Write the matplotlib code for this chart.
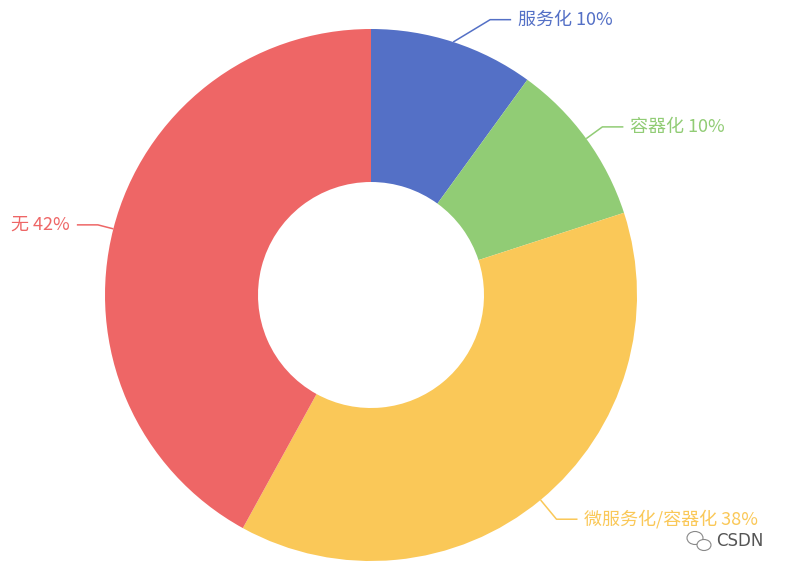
import numpy as np
import matplotlib
matplotlib.use("Agg")
import matplotlib.pyplot as plt
from matplotlib.patches import Ellipse

plt.rcParams['font.family'] = ['Noto Sans CJK SC', 'DejaVu Sans']

labels = ['服务化', '容器化', '微服务化/容器化', '无']
values = [10, 10, 38, 42]
colors = ['#5470c6', '#91cc75', '#fac858', '#ee6666']

W, H = 790, 572
fig = plt.figure(figsize=(W / 100, H / 100), dpi=100)
ax = fig.add_axes([0, 0, 1, 1])

cx, cy = 371, H - 295
R, r_in = 266, 113
wedges, _ = ax.pie(values, colors=colors, startangle=90, counterclock=False,
                   radius=R, center=(cx, cy), frame=True,
                   wedgeprops=dict(width=R - r_in, linewidth=0))
ax.set_xlim(0, W)
ax.set_ylim(0, H)
ax.set_aspect('equal')
ax.axis('off')

# label layout: elbow radius, elbow angle offset (deg)
elbow_r = [300, 286, 291, 282]
elbow_dang = [-5.4, 0, 0, 0]
hlen = 21
for w, lab, v, c, er, da in zip(wedges, labels, values, colors, elbow_r, elbow_dang):
    mid = np.deg2rad((w.theta1 + w.theta2) / 2)
    p0 = (cx + R * np.cos(mid), cy + R * np.sin(mid))
    ea = mid + np.deg2rad(da)
    p1 = (cx + er * np.cos(ea), cy + er * np.sin(ea))
    side = 1 if np.cos(mid) >= 0 else -1
    p2 = (p1[0] + side * hlen, p1[1])
    ax.plot([p0[0], p1[0], p2[0]], [p0[1], p1[1], p2[1]], color=c, lw=1.1,
            solid_capstyle='butt')
    ax.text(p2[0] + side * 7, p2[1], f'{lab} {v}%', color=c, fontsize=13,
            fontweight='medium',
            ha='left' if side > 0 else 'right', va='center')

# watermark
ax.add_patch(Ellipse((695, H - 538), 16, 13, fill=False, ec='#888888', lw=0.8))
ax.add_patch(Ellipse((704, H - 545), 14, 11, fill=True, ec='#888888', lw=0.8, fc='white'))
ax.text(716, H - 541, 'CSDN', color='#555555', fontsize=12, ha='left', va='center',
        family=['DejaVu Sans'])

fig.savefig('out.png', dpi=100)
